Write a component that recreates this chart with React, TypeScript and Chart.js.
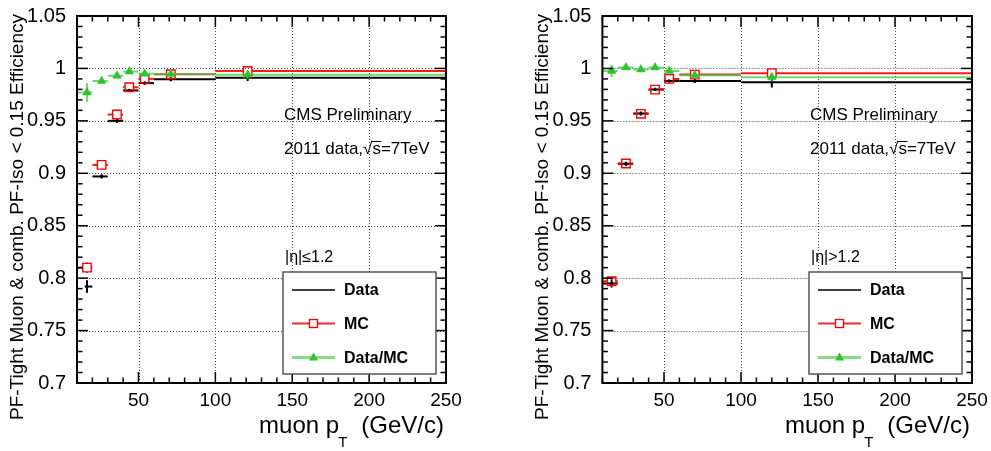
import React, { useEffect, useRef } from 'react';
import { Chart, registerables } from 'chart.js';

Chart.register(...registerables);

const FONT = '"Liberation Sans", Arial, Helvetica, sans-serif';

// Axis ranges and ticks
const X_MIN = 10;
const X_MAX = 250;
const Y_MIN = 0.7;
const Y_MAX = 1.05;
const X_TICKS = [50, 100, 150, 200, 250];
const Y_TICKS = [0.7, 0.75, 0.8, 0.85, 0.9, 0.95, 1.0, 1.05];
const X_MINOR_STEP = 10;
const Y_MINOR_STEP = 0.01;

// pT bins (GeV/c)
const BIN_LOW = [10, 20, 30, 40, 50, 60, 100];
const BIN_HIGH = [20, 30, 40, 50, 60, 100, 250];

const LEGEND_LABELS = ['Data', 'MC', 'Data/MC'];
const Y_TITLE = 'PF-Tight Muon & comb. PF-Iso < 0.15 Efficiency';

// Barrel |eta| <= 1.2
const B_X_MEAN = [16.5, 26, 36, 44, 54, 71, 121];
const B_DATA_LOW = [15, 20, 30, 40, 50, 60, 100];
const B_DATA = [0.792, 0.897, 0.95, 0.979, 0.986, 0.9897, 0.991];
const B_DATA_ERR = [0.006, 0.002, 0.002, 0.0015, 0.0015, 0.002, 0.003];
const B_MC = [0.81, 0.908, 0.956, 0.982, 0.99, 0.9944, 0.9976];
const B_MC_ERR = [0.005, 0.002, 0.002, 0.001, 0.001, 0.001, 0.001];
const B_RATIO = [0.977, 0.988, 0.993, 0.997, 0.995, 0.9948, 0.994];
const B_RATIO_ERR = [0.009, 0.002, 0.002, 0.0015, 0.0015, 0.002, 0.004];

// Endcap |eta| > 1.2
const E_X_MEAN = [16, 25.3, 35, 44.2, 53.4, 70, 120];
const E_DATA = [0.795, 0.909, 0.957, 0.98, 0.988, 0.988, 0.9869];
const E_DATA_ERR = [0.004, 0.002, 0.002, 0.0015, 0.0015, 0.002, 0.005];
const E_MC = [0.797, 0.9093, 0.9567, 0.9798, 0.99, 0.9941, 0.9955];
const E_MC_ERR = [0.003, 0.002, 0.001, 0.001, 0.001, 0.001, 0.001];
const E_RATIO = [0.9976, 1.001, 0.999, 1.001, 0.9976, 0.9935, 0.9916];
const E_RATIO_ERR = [0.006, 0.002, 0.002, 0.0015, 0.0015, 0.002, 0.004];

type Pt = { x: number; y: number; ey: number; xl: number; xh: number };

function points(xs: number[], ys: number[], errs: number[], lows: number[], highs: number[]): Pt[] {
  return xs.map((x, i) => ({ x, y: ys[i], ey: errs[i], xl: lows[i], xh: highs[i] }));
}

const RED = '#ff0000';
const GREEN = '#2ec42e';
const GREEN_LINE = 'rgba(60,205,60,0.75)';

function line(ctx: CanvasRenderingContext2D, x1: number, y1: number, x2: number, y2: number) {
  ctx.beginPath();
  ctx.moveTo(x1, y1);
  ctx.lineTo(x2, y2);
  ctx.stroke();
}

const rootPlugin = {
  id: 'rootFrame',
  beforeDatasetsDraw(chart: any) {
    const { ctx, chartArea: a, scales } = chart;
    const xs = scales.x, ys = scales.y;
    ctx.save();
    ctx.strokeStyle = '#444';
    ctx.lineWidth = 1;
    ctx.setLineDash([1, 2]);
    ctx.beginPath();
    for (const v of X_TICKS) {
      if (v >= X_MAX) continue;
      const p = Math.round(xs.getPixelForValue(v)) + 0.5;
      ctx.moveTo(p, a.top);
      ctx.lineTo(p, a.bottom);
    }
    for (const v of Y_TICKS) {
      if (v <= Y_MIN + 1e-9 || v >= Y_MAX - 1e-9) continue;
      const p = Math.round(ys.getPixelForValue(v)) + 0.5;
      ctx.moveTo(a.left, p);
      ctx.lineTo(a.right, p);
    }
    ctx.stroke();
    ctx.restore();
  },
  beforeDatasetDraw(chart: any, args: any) {
    const ds = chart.data.datasets[args.index];
    const { ctx, chartArea: a, scales } = chart;
    const xs = scales.x, ys = scales.y;
    ctx.save();
    ctx.beginPath();
    ctx.rect(a.left, a.top, a.right - a.left, a.bottom - a.top);
    ctx.clip();
    ctx.strokeStyle = ds.errColor;
    ctx.lineWidth = ds.errWidth;
    const gap = ds.errGap || 0;
    for (const p of ds.data as Pt[]) {
      const px = xs.getPixelForValue(p.x);
      const py = ys.getPixelForValue(p.y);
      const xl = xs.getPixelForValue(p.xl);
      const xh = xs.getPixelForValue(p.xh);
      const yl = ys.getPixelForValue(p.y - p.ey);
      const yh = ys.getPixelForValue(p.y + p.ey);
      if (gap > 0) {
        line(ctx, xl, py, px - gap, py);
        line(ctx, px + gap, py, xh, py);
        if (yl - py > gap) {
          line(ctx, px, py + gap, px, yl);
          line(ctx, px, py - gap, px, yh);
        }
      } else {
        line(ctx, xl, py, xh, py);
        line(ctx, px, yh, px, yl);
      }
    }
    ctx.restore();
  },
  afterDatasetsDraw(chart: any, _args: any, opts: any) {
    const { ctx, chartArea: a, scales } = chart;
    const xs = scales.x, ys = scales.y;
    ctx.save();
    // frame
    ctx.strokeStyle = '#000';
    ctx.lineWidth = 2;
    ctx.strokeRect(a.left, a.top, a.right - a.left, a.bottom - a.top);
    // ticks
    ctx.lineWidth = 1.5;
    const MAJ = 11, MIN = 5.5;
    for (let v = X_MIN; v <= X_MAX + 1e-9; v += X_MINOR_STEP) {
      const isMaj = X_TICKS.some((t) => Math.abs(t - v) < 1e-6);
      const len = isMaj ? MAJ : MIN;
      const p = xs.getPixelForValue(v);
      line(ctx, p, a.bottom, p, a.bottom - len);
      line(ctx, p, a.top, p, a.top + len);
    }
    for (let k = 0; ; k++) {
      const v = Y_MIN + k * Y_MINOR_STEP;
      if (v > Y_MAX + 1e-9) break;
      const isMaj = Y_TICKS.some((t) => Math.abs(t - v) < 1e-6);
      const len = isMaj ? MAJ : MIN;
      const p = ys.getPixelForValue(v);
      line(ctx, a.left, p, a.left + len, p);
      line(ctx, a.right, p, a.right - len, p);
    }

    ctx.fillStyle = '#000';
    // CMS texts
    const tx = a.right - 162;
    ctx.font = `17px ${FONT}`;
    ctx.textAlign = 'left';
    ctx.textBaseline = 'alphabetic';
    ctx.fillText('CMS Preliminary', tx, 120);
    const t1 = '2011 data,';
    ctx.fillText(t1, tx, 154);
    let cx = tx + ctx.measureText(t1).width;
    ctx.fillText('\u221A', cx, 154);
    cx += ctx.measureText('\u221A').width;
    const sw = ctx.measureText('s').width;
    ctx.fillText('s', cx, 154);
    ctx.lineWidth = 1;
    line(ctx, cx - 1, 141.5, cx + sw + 0.5, 141.5);
    cx += sw;
    ctx.fillText('=7TeV', cx, 154);

    // eta label
    ctx.font = `16px ${FONT}`;
    ctx.fillText(opts.etaText, a.right - 161, 262);

    // legend box
    const bx = a.right - 163, by = 272, bw = 153, bh = 102;
    ctx.fillStyle = '#fff';
    ctx.fillRect(bx, by, bw, bh);
    ctx.strokeStyle = '#555';
    ctx.lineWidth = 1.5;
    ctx.strokeRect(bx, by, bw, bh);
    const rows = [290, 323.5, 357.5];
    const lx1 = bx + 9, lx2 = bx + 52, mx = bx + 30.5;
    // Data
    ctx.strokeStyle = '#000';
    ctx.lineWidth = 1.5;
    line(ctx, lx1, rows[0], lx2, rows[0]);
    // MC
    ctx.strokeStyle = 'rgba(255,0,0,0.85)';
    ctx.lineWidth = 2;
    line(ctx, lx1, rows[1], mx - 4.3, rows[1]);
    line(ctx, mx + 4.3, rows[1], lx2, rows[1]);
    ctx.strokeStyle = RED;
    ctx.lineWidth = 1.3;
    ctx.strokeRect(mx - 4, rows[1] - 4, 8, 8);
    // Data/MC
    ctx.strokeStyle = 'rgba(80,210,80,0.7)';
    ctx.lineWidth = 3;
    line(ctx, lx1, rows[2], lx2, rows[2]);
    ctx.fillStyle = GREEN;
    ctx.beginPath();
    ctx.moveTo(mx, rows[2] - 5);
    ctx.lineTo(mx + 4.5, rows[2] + 3);
    ctx.lineTo(mx - 4.5, rows[2] + 3);
    ctx.closePath();
    ctx.fill();
    ctx.fillStyle = '#000';
    ctx.font = `bold 16px ${FONT}`;
    ctx.textBaseline = 'middle';
    LEGEND_LABELS.forEach((lab, i) => ctx.fillText(lab, bx + 61, rows[i] + 1));

    // x title
    ctx.textBaseline = 'alphabetic';
    ctx.font = `24px ${FONT}`;
    const tail = '(GeV/c)';
    const xr = a.right - 2;
    const wTail = ctx.measureText(tail).width;
    ctx.fillText(tail, xr - wTail, 433);
    ctx.font = `15px ${FONT}`;
    const wT = ctx.measureText('T').width;
    const tX = xr - wTail - 14 - wT;
    ctx.fillText('T', tX, 447);
    ctx.font = `24px ${FONT}`;
    const head = 'muon p';
    const wHead = ctx.measureText(head).width;
    ctx.fillText(head, tX - wHead + 1, 433);

    // y title
    ctx.save();
    ctx.translate(a.left - 54, 14);
    ctx.rotate(-Math.PI / 2);
    ctx.font = `19px ${FONT}`;
    ctx.textAlign = 'right';
    ctx.textBaseline = 'alphabetic';
    ctx.fillText(Y_TITLE, 0, 0);
    ctx.restore();

    ctx.restore();
  },
};

type PanelSpec = {
  data: Pt[];
  mc: Pt[];
  ratio: Pt[];
  etaText: string;
  yAxisWidth: number;
  padRight: number;
};

function makeConfig(p: PanelSpec): any {
  return {
    type: 'scatter',
    data: {
      datasets: [
        {
          label: LEGEND_LABELS[0],
          data: p.data,
          order: 3,
          pointStyle: 'circle',
          pointRadius: 1.6,
          backgroundColor: '#000',
          borderColor: '#000',
          borderWidth: 0,
          errColor: '#000',
          errWidth: 2,
          errGap: 0,
        },
        {
          label: LEGEND_LABELS[1],
          data: p.mc,
          order: 2,
          pointStyle: 'rect',
          pointRadius: 6,
          backgroundColor: 'rgba(255,255,255,0)',
          borderColor: RED,
          borderWidth: 1.4,
          errColor: 'rgba(255,0,0,0.9)',
          errWidth: 2,
          errGap: 4.3,
        },
        {
          label: LEGEND_LABELS[2],
          data: p.ratio,
          order: 1,
          pointStyle: 'triangle',
          pointRadius: 5,
          backgroundColor: GREEN,
          borderColor: GREEN,
          borderWidth: 0.5,
          errColor: GREEN_LINE,
          errWidth: 2,
          errGap: 0,
        },
      ],
    },
    options: {
      animation: false,
      responsive: false,
      events: [],
      layout: { padding: { left: 0, right: p.padRight, top: 16, bottom: 0 } },
      scales: {
        x: {
          type: 'linear',
          min: X_MIN,
          max: X_MAX,
          afterBuildTicks: (s: any) => {
            s.ticks = X_TICKS.map((v) => ({ value: v }));
          },
          afterFit: (s: any) => {
            s.height = 68;
          },
          grid: { display: false },
          border: { display: false },
          ticks: {
            color: '#000',
            font: { family: FONT, size: 19 },
            padding: -2,
            maxRotation: 0,
            minRotation: 0,
            autoSkip: false,
          },
        },
        y: {
          type: 'linear',
          min: Y_MIN,
          max: Y_MAX,
          afterBuildTicks: (s: any) => {
            s.ticks = Y_TICKS.map((v) => ({ value: v }));
          },
          afterFit: (s: any) => {
            s.width = p.yAxisWidth;
          },
          grid: { display: false },
          border: { display: false },
          ticks: {
            color: '#000',
            font: { family: FONT, size: 20 },
            padding: 3,
            autoSkip: false,
            callback: (v: number) => String(Math.round(v * 100) / 100),
          },
        },
      },
      plugins: {
        legend: { display: false },
        tooltip: { enabled: false },
        rootFrame: { etaText: p.etaText },
      },
    },
    plugins: [rootPlugin],
  };
}

export default function App() {
  const leftRef = useRef<HTMLCanvasElement>(null);
  const rightRef = useRef<HTMLCanvasElement>(null);

  useEffect(() => {
    const left = new Chart(
      leftRef.current!,
      makeConfig({
        data: points(B_X_MEAN, B_DATA, B_DATA_ERR, B_DATA_LOW, BIN_HIGH),
        mc: points(B_X_MEAN, B_MC, B_MC_ERR, BIN_LOW, BIN_HIGH),
        ratio: points(B_X_MEAN, B_RATIO, B_RATIO_ERR, BIN_LOW, BIN_HIGH),
        etaText: '|\u03B7|\u22641.2',
        yAxisWidth: 77,
        padRight: 49,
      })
    );
    const right = new Chart(
      rightRef.current!,
      makeConfig({
        data: points(E_X_MEAN, E_DATA, E_DATA_ERR, BIN_LOW, BIN_HIGH),
        mc: points(E_X_MEAN, E_MC, E_MC_ERR, BIN_LOW, BIN_HIGH),
        ratio: points(E_X_MEAN, E_RATIO, E_RATIO_ERR, BIN_LOW, BIN_HIGH),
        etaText: '|\u03B7|>1.2',
        yAxisWidth: 107.4,
        padRight: 19,
      })
    );
    return () => {
      left.destroy();
      right.destroy();
    };
  }, []);

  return (
    <div style={{ position: 'fixed', left: 0, top: 0, width: 991, height: 451, background: '#fff' }}>
      <canvas ref={leftRef} width={495} height={451} style={{ position: 'absolute', left: 0, top: 0, width: 495, height: 451 }} />
      <canvas ref={rightRef} width={496} height={451} style={{ position: 'absolute', left: 495, top: 0, width: 496, height: 451 }} />
    </div>
  );
}
